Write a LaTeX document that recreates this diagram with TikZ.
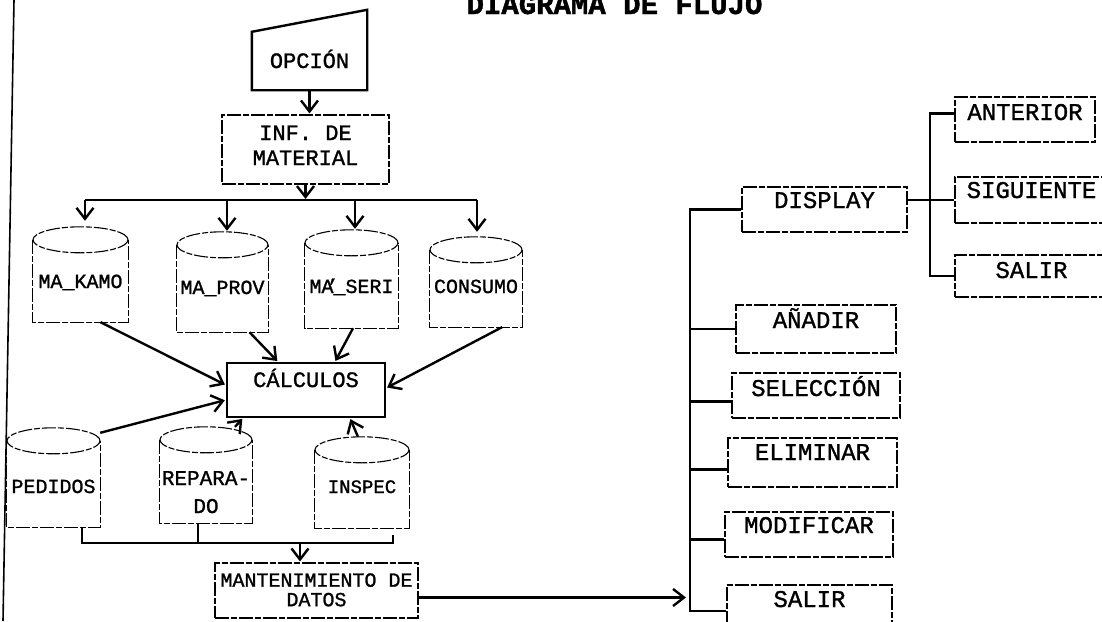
\documentclass[tikz,border=0pt]{standalone}
\usepackage{fontspec}
\setmainfont{Liberation Mono}[FakeBold=1.2]
\newfontfamily\titlefont{Liberation Mono}[FakeBold=1.5]
\usetikzlibrary{arrows.meta}
\newcommand\cylout[2]{%
  \draw[thinbox] ([yshift=-13pt]#1.north west) -- (#1.south west) -- (#1.south east) -- ([yshift=-13pt]#1.north east);
  \draw[thinbox] ([yshift=-13pt]#1.north) ellipse [x radius=#2pt, y radius=13pt];
}
\begin{document}
\begin{tikzpicture}[x=1pt,y=-1pt,
  conn/.style={line width=2.4pt},
  arr/.style={line width=2.4pt,-{Straight Barb[length=11pt,width=17pt]},shorten >=1pt},
  thinbox/.style={draw,line width=1.1pt,dash pattern=on 14pt off 2pt on 6pt off 2pt},
  boxn/.style={thinbox,inner sep=0pt,anchor=center},
  cyl/.style={inner sep=0pt,anchor=center,font=\fontsize{20}{28}\selectfont},
  lf/.style={font=\fontsize{22}{25}\selectfont},
  rf/.style={font=\fontsize{24}{26}\selectfont},
]
\fill[white] (0,0) rectangle (1102,621);
\useasboundingbox (0,0) rectangle (1102,621);

% page border from the scan
\draw[line width=1.6pt] (14,0) -- (3,621);

% title
\node[font=\titlefont\bfseries\fontsize{29}{30}\selectfont, anchor=base, inner sep=0pt] (title) at (614.5,14) {DIAGRAMA DE FLUJO};

% OPCION (manual input)
\node[lf, inner sep=0pt, minimum width=115pt, text height=36pt, text depth=22pt] (opc) at (309.5,61) {OPCIÓN};
\draw[line width=2.4pt] (opc.south west) -- (opc.south east) -- ([yshift=22pt]opc.north east) -- (opc.north west) -- cycle;

% INF. DE MATERIAL
\node[boxn, lf, minimum width=167pt, text height=25pt, text depth=44pt] (inf) at (305.5,149.5)
  {\begin{tabular}[t]{@{}c@{}}INF. DE\\MATERIAL\end{tabular}};

% top cylinders
\node[cyl, minimum width=95pt, text height=61pt, text depth=34pt] (kamo) at (80.5,274.5) {MA\_KAMO};
\node[cyl, minimum width=91pt, text height=62pt, text depth=38pt] (prov) at (222.5,282) {MA\_PROV};
\node[cyl, minimum width=93pt, text height=63pt, text depth=35pt] (seri) at (351.5,279) {MA\_\llap{'\hspace{7pt}}SERI};
\node[cyl, minimum width=92pt, text height=56pt, text depth=34pt] (cons) at (476,282) {CONSUMO};
\cylout{kamo}{47.5}
\cylout{prov}{45.5}
\cylout{seri}{46.5}
\cylout{cons}{46}

% CALCULOS
\node[draw, line width=2.4pt, inner sep=0pt, lf, minimum width=158pt, text height=24pt, text depth=30pt] (calc) at (306,390) {CÁLCULOS};

% bottom cylinders
\node[cyl, minimum width=93pt, text height=65pt, text depth=34pt] (ped) at (53.5,477.5) {PEDIDOS};
\node[cyl, font=\fontsize{21}{28}\selectfont, minimum width=92pt, text height=58pt, text depth=38pt] (rep) at (206,475)
  {\begin{tabular}[t]{@{}c@{}}REPARA-\\DO\end{tabular}};
\node[cyl, font=\fontsize{19}{28}\selectfont, minimum width=94pt, text height=56pt, text depth=35pt] (insp) at (362,482.5) {INSPEC};
\cylout{ped}{46.5}
\cylout{rep}{46}
\cylout{insp}{47}

% MANTENIMIENTO DE DATOS
\node[boxn, font=\fontsize{20}{19.5}\selectfont, minimum width=203pt, text height=23.7pt, text depth=31.3pt] (mant) at (316.5,590.5)
  {\begin{tabular}[t]{@{}c@{}}MANTENIMIENTO DE\\DATOS\end{tabular}};

% right menu
\node[boxn, rf, minimum width=165pt, text height=21pt, text depth=24pt] (disp) at (824.5,209.5) {DISPLAY};
\node[boxn, rf, minimum width=160pt, text height=23pt, text depth=25pt] (anad) at (816,329) {AÑADIR};
\node[boxn, rf, minimum width=168pt, text height=23pt, text depth=22pt] (sel) at (816,395.5) {SELECCIÓN};
\node[boxn, rf, minimum width=169pt, text height=22pt, text depth=27pt] (elim) at (812.5,462.5) {ELIMINAR};
\node[boxn, rf, minimum width=168pt, text height=21pt, text depth=24pt] (modif) at (809,534.5) {MODIFICAR};
\node[boxn, rf, minimum width=165pt, text height=22pt, text depth=30pt] (sal1) at (809.5,611) {SALIR};
\node[boxn, rf, minimum width=140pt, text height=23pt, text depth=22pt] (ant) at (1025,119.5) {ANTERIOR};
\node[boxn, rf, minimum width=153pt, text height=21pt, text depth=25pt] (sig) at (1031.5,200) {SIGUIENTE};
\node[boxn, rf, minimum width=153pt, text height=23pt, text depth=19pt] (sal2) at (1031.5,276) {SALIR};

% ---- connectors, left part
\coordinate (b1) at (85,200);
\coordinate (b2) at (227,200);
\coordinate (b3) at (355,200);
\coordinate (b4) at (477,200);
\draw[arr] (opc.south) -- (opc.south |- inf.north);
\draw[arr] (inf.south) -- (inf.south |- b1);
\draw[conn] (b1) -- (b4);
\draw[arr, shorten >=6pt] (b1) -- (b1 |- kamo.north);
\draw[arr] (b2) -- (b2 |- prov.north);
\draw[arr] (b3) -- (b3 |- seri.north);
\draw[arr, shorten >=5pt] (b4) -- (b4 |- cons.north);

\draw[arr] ([xshift=20pt]kamo.south) -- ([yshift=5pt]calc.west);
\draw[arr] ([xshift=27pt]prov.south) -- ([xshift=-28pt]calc.north);
\draw[arr] ([xshift=1.5pt]seri.south) -- ([xshift=29pt]calc.north);
\draw[arr] ([xshift=26pt]cons.south) -- ([yshift=2pt]calc.east);
\draw[arr] ([yshift=-5pt]ped.north east) -- ([yshift=-10pt]calc.west);
\draw[arr] ([xshift=29pt]rep.north) -- ([xshift=-63pt]calc.south);
\draw[arr] ([xshift=-4pt]insp.north) -- ([xshift=44pt]calc.south);

\coordinate (c1) at (82,543);
\coordinate (c2) at (300,543);
\coordinate (c3) at (393,543);
\draw[conn] (c1 |- ped.south) -- (c1) -- (c3) -- ++(0,-8);
\draw[conn] ([xshift=-8pt]rep.south) -- ([xshift=-8pt]rep.south |- c1);
\draw[arr] (c2) -- (c2 |- mant.north);

% ---- connectors, right part
\coordinate (vb) at (690,0);
\coordinate (sb) at (930,0);
\draw[arr, shorten >=4pt] ([yshift=-7pt]mant.east) -- ([yshift=-7pt]mant.east -| vb);
\draw[conn] (disp.west) -- (disp.west -| vb) -- (sal1.west -| vb) -- (sal1.west);
\draw[conn] (anad.west -| vb) -- (anad.west);
\draw[conn] ([yshift=-6pt]sel.west -| vb) -- ([yshift=-6pt]sel.west);
\draw[conn] ([yshift=-7pt]elim.west -| vb) -- ([yshift=-7pt]elim.west);
\draw[conn] ([yshift=-5pt]modif.west -| vb) -- ([yshift=-5pt]modif.west);

\draw[conn] (disp.east |- sig.west) -- (sig.west);
\draw[conn] ([yshift=6pt]ant.west) -- ([yshift=6pt]ant.west -| sb) -- (sal2.west -| sb) -- (sal2.west);
\end{tikzpicture}
\end{document}
